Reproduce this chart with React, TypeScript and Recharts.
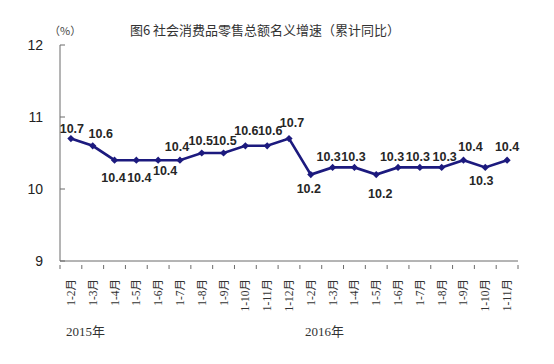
import { LineChart, Line, XAxis, YAxis, LabelList } from "recharts";

// 累计同比名义增速 (%)
const months = [
  "1-2月", "1-3月", "1-4月", "1-5月", "1-6月", "1-7月", "1-8月", "1-9月", "1-10月", "1-11月", "1-12月",
  "1-2月", "1-3月", "1-4月", "1-5月", "1-6月", "1-7月", "1-8月", "1-9月", "1-10月", "1-11月",
];
const growth = [
  10.7, 10.6, 10.4, 10.4, 10.4, 10.4, 10.5, 10.5, 10.6, 10.6, 10.7,
  10.2, 10.3, 10.3, 10.2, 10.3, 10.3, 10.3, 10.4, 10.3, 10.4,
];
const yTicks = [9, 10, 11, 12];
const yearLabels = ["2015年", "2016年"];

// label nudges (dx, dy) relative to each point, as placed in the original
const labelNudge: [number, number][] = [
  [1, -10], [8, -12], [-1, 18], [3, 18], [7, 11], [-3, -13], [-1, -12], [1, -12], [1, -15], [3, -15], [3, -16],
  [-2, 14], [-4, -10], [-1, -10], [4, 19], [-6, -10], [-2, -10], [3, -10], [7, -13], [-4, 14], [0, -13],
];

const data = months.map((m, i) => ({ key: `${i}`, month: m, value: growth[i] }));

const W = 554;
const H = 364;
const LEFT = 60;
const RIGHT = 36;
const TOP = 45;
const XH = 103;
const HALF = (W - LEFT - RIGHT) / months.length / 2;
const AXIS = "#6b6b6b";
const NAVY = "#1c1a7e";

const Diamond = (props: any) => {
  const { cx, cy } = props;
  if (cx == null || cy == null) return null;
  const r = 3.6;
  return (
    <path
      d={`M${cx},${cy - r}L${cx + r},${cy}L${cx},${cy + r}L${cx - r},${cy}Z`}
      fill={NAVY}
      stroke="none"
    />
  );
};

const YTick = (props: any) => {
  const { y, payload } = props;
  return (
    <g>
      <line x1={LEFT} x2={LEFT + 5} y1={y} y2={y} stroke={AXIS} strokeWidth={1} />
      <text
        x={LEFT - 17}
        y={y}
        textAnchor="end"
        dominantBaseline="central"
        fontFamily="Liberation Sans, Arial, sans-serif"
        fontSize={14}
        fill="#222"
      >
        {payload.value}
      </text>
    </g>
  );
};

const XTick = (props: any) => {
  const { x, y, payload } = props;
  const i = Number(payload.value);
  const last = i === months.length - 1;
  return (
    <g>
      <line x1={x - HALF} x2={x - HALF} y1={y} y2={y - 4} stroke={AXIS} strokeWidth={1} />
      {last && <line x1={x + HALF} x2={x + HALF} y1={y} y2={y - 4} stroke={AXIS} strokeWidth={1} />}
      <text
        transform={`translate(${x},${y + 10}) rotate(-90)`}
        textAnchor="end"
        dominantBaseline="central"
        fontFamily="Liberation Serif, Noto Sans CJK SC, serif"
        fontSize={11.5}
        fill="#333"
      >
        {months[i]}
      </text>
    </g>
  );
};

const PointLabel = (props: any) => {
  const { x, y, value, index } = props;
  const [dx, dy] = labelNudge[index] || [0, -12];
  return (
    <text
      x={x + dx}
      y={y + dy}
      textAnchor="middle"
      dominantBaseline="central"
      fontFamily="Liberation Sans, Arial, sans-serif"
      fontWeight="bold"
      fontSize={12.5}
      fill="#262626"
    >
      {value}
    </text>
  );
};

export default function App() {
  return (
    <div style={{ position: "absolute", left: 0, top: 0, width: W, height: H, background: "#fff" }}>
      <div
        style={{
          position: "absolute",
          left: 0,
          width: 530,
          top: 21,
          textAlign: "center",
          fontFamily: "Noto Sans CJK SC, sans-serif",
          fontSize: 13,
          color: "#333",
          lineHeight: "18px",
        }}
      >
        图6 社会消费品零售总额名义增速（累计同比）
      </div>
      <div
        style={{
          position: "absolute",
          left: 49,
          top: 22,
          fontFamily: "Noto Sans CJK SC, sans-serif",
          fontSize: 11,
          color: "#444",
          lineHeight: "16px",
        }}
      >
        （%）
      </div>
      <LineChart
        width={W}
        height={H}
        data={data}
        margin={{ top: TOP, right: RIGHT, bottom: 0, left: 0 }}
      >
        <XAxis
          dataKey="key"
          interval={0}
          height={XH}
          padding={{ left: HALF, right: HALF }}
          tickLine={false}
          axisLine={{ stroke: AXIS, strokeWidth: 1 }}
          tick={<XTick />}
        />
        <YAxis
          width={LEFT}
          domain={[9, 12]}
          ticks={yTicks}
          tickLine={false}
          tickSize={0}
          axisLine={{ stroke: AXIS, strokeWidth: 1 }}
          tick={<YTick />}
        />
        <Line
          type="linear"
          dataKey="value"
          stroke={NAVY}
          strokeWidth={2.6}
          dot={<Diamond />}
          activeDot={false}
          isAnimationActive={false}
        >
          <LabelList dataKey="value" content={<PointLabel />} />
        </Line>
      </LineChart>
      {yearLabels.map((t, i) => (
        <div
          key={t}
          style={{
            position: "absolute",
            left: i === 0 ? 66 : 305,
            top: 324,
            fontFamily: "Liberation Serif, Noto Sans CJK SC, serif",
            fontSize: 13,
            color: "#333",
            lineHeight: "16px",
          }}
        >
          {t}
        </div>
      ))}
    </div>
  );
}
